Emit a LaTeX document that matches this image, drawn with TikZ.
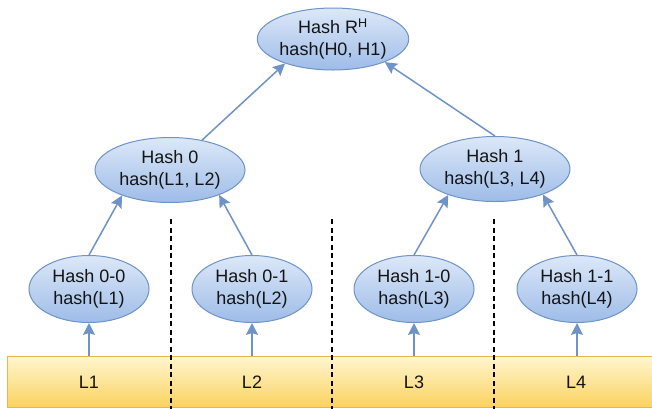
\documentclass[tikz,border=0pt]{standalone}
\usepackage{fontspec}
\setmainfont{Liberation Sans}
\usetikzlibrary{shapes.geometric,arrows.meta}
\definecolor{hashline}{HTML}{6E93C7}
\definecolor{hashtop}{HTML}{DCE8F8}
\definecolor{hashbot}{HTML}{9EBCE8}
\definecolor{bartop}{HTML}{FFF5CF}
\definecolor{barbot}{HTML}{FBD25E}
\definecolor{barline}{HTML}{E6B84C}
\definecolor{txt}{HTML}{141414}
\tikzset{
  hashnode/.style={ellipse, draw=hashline, line width=1pt, top color=hashtop,
    bottom color=hashbot, inner sep=0pt, align=center, text=txt,
    font=\fontsize{18}{22}\selectfont},
  inner/.style={hashnode, minimum width=150pt, minimum height=65pt},
  leaf/.style={hashnode, minimum width=120pt, minimum height=67pt},
  arr/.style={draw=hashline, line width=1.5pt,
    -{Stealth[length=12pt,width=12pt,inset=2pt]}},
  sep/.style={draw=black, line width=1.3pt, dash pattern=on 5pt off 3.5pt},
  blk/.style={text=txt, font=\fontsize{18}{22}\selectfont}
}
\begin{document}
\begin{tikzpicture}[x=1pt,y=-1pt]
\useasboundingbox (0,0) rectangle (652,408);
\clip (0,0) rectangle (652,408);

% data blocks
\node[draw=barline, line width=1pt, top color=bartop, bottom color=barbot,
  minimum width=660pt, minimum height=51pt, inner sep=0pt, anchor=north west]
  (bar) at (7,356) {};
\node[blk] (b1) at (89,382) {L1};
\node[blk] (b2) at (252,382) {L2};
\node[blk] (b3) at (414,382) {L3};
\node[blk] (b4) at (576,382) {L4};

% separators between the blocks
\draw[sep] (171,219) -- (171,410);
\draw[sep] (332,219) -- (332,410);
\draw[sep] (494,219) -- (494,410);

% tree of hashes
\node[inner, minimum width=148pt, minimum height=62pt] (root) at (333,39)
  {Hash R\textsuperscript{H}\\hash(H0, H1)};
\node[inner] (h0) at (170,170) {Hash 0\\hash(L1, L2)};
\node[inner] (h1) at (495,169) {Hash 1\\hash(L3, L4)};
\node[leaf] (h00) at (89,289) {Hash 0-0\\hash(L1)};
\node[leaf] (h01) at (252,289) {Hash 0-1\\hash(L2)};
\node[leaf] (h10) at (414,289) {Hash 1-0\\hash(L3)};
\node[leaf] (h11) at (577,289) {Hash 1-1\\hash(L4)};

% edges
\draw[arr] (h0.43) -- (root.207);
\draw[arr] (h1.north) -- (root.336);
\draw[arr] (h00.north) -- (h0.208);
\draw[arr] (h01.north) -- (h0.333);
\draw[arr] (h10.north) -- (h1.209);
\draw[arr] (h11.north) -- (h1.332);
\draw[arr] (h00 |- bar.north) -- (h00.south);
\draw[arr] (h01 |- bar.north) -- (h01.south);
\draw[arr] (h10 |- bar.north) -- (h10.south);
\draw[arr] (h11 |- bar.north) -- (h11.south);
\end{tikzpicture}
\end{document}
